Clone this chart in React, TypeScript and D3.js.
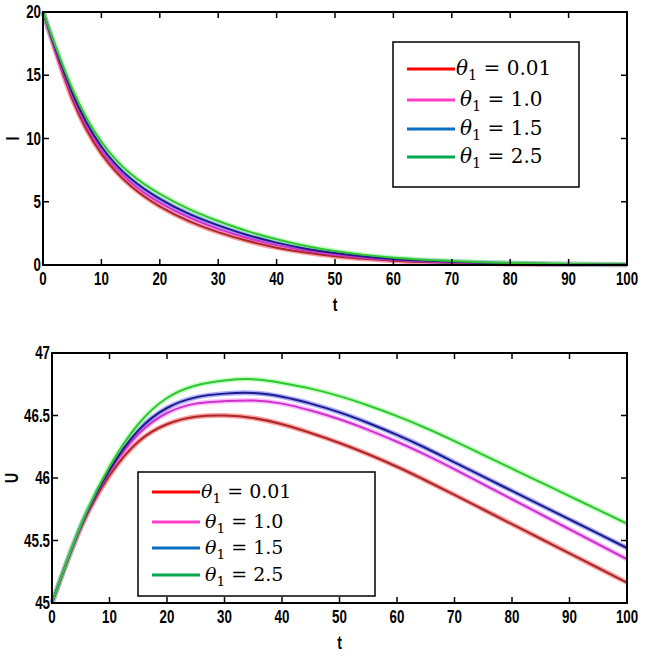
import React, { useEffect, useRef } from 'react';
import * as d3 from 'd3';

// time grid (every 5 units)
const tValues = [0, 5, 10, 15, 20, 25, 30, 35, 40, 45, 50, 55, 60, 65, 70, 75, 80, 85, 90, 95, 100];

const thetaLabels = ['0.01', '1.0', '1.5', '2.5'];

// I(t) for each theta
const iRed = [20, 13.14, 8.81, 6.27, 4.64, 3.47, 2.6, 1.91, 1.37, 0.98, 0.69, 0.49, 0.34, 0.24, 0.17, 0.12, 0.085, 0.06, 0.042, 0.03, 0.021];
const iMagenta = [20, 13.38, 9.09, 6.55, 4.93, 3.76, 2.86, 2.14, 1.57, 1.14, 0.81, 0.58, 0.41, 0.29, 0.21, 0.15, 0.11, 0.078, 0.055, 0.04, 0.028];
const iBlue = [20, 13.63, 9.37, 6.83, 5.23, 4.04, 3.13, 2.37, 1.77, 1.29, 0.94, 0.68, 0.48, 0.35, 0.25, 0.18, 0.13, 0.096, 0.068, 0.049, 0.035];
const iGreen = [20, 13.95, 9.74, 7.21, 5.62, 4.42, 3.48, 2.68, 2.03, 1.5, 1.1, 0.8, 0.58, 0.42, 0.31, 0.22, 0.16, 0.12, 0.085, 0.062, 0.045];

// U(t) for each theta
const uRed = [45.0, 45.6, 46.02, 46.29, 46.43, 46.49, 46.5, 46.48, 46.43, 46.36, 46.28, 46.19, 46.09, 45.98, 45.865, 45.748, 45.631, 45.514, 45.397, 45.28, 45.163];
const uMagenta = [45.0, 45.61, 46.05, 46.35, 46.52, 46.595, 46.615, 46.62, 46.595, 46.54, 46.47, 46.385, 46.29, 46.185, 46.07, 45.95, 45.83, 45.71, 45.59, 45.47, 45.35];
const uBlue = [45.0, 45.615, 46.065, 46.38, 46.56, 46.645, 46.675, 46.68, 46.65, 46.595, 46.525, 46.44, 46.345, 46.24, 46.125, 46.011, 45.897, 45.783, 45.669, 45.555, 45.44];
const uGreen = [45.0, 45.62, 46.09, 46.43, 46.64, 46.74, 46.78, 46.79, 46.76, 46.715, 46.655, 46.58, 46.495, 46.4, 46.295, 46.185, 46.075, 45.965, 45.855, 45.745, 45.635];

const xTicks = [0, 10, 20, 30, 40, 50, 60, 70, 80, 90, 100];
const iTicks = [0, 5, 10, 15, 20];
const uTicks = [45, 45.5, 46, 46.5, 47];

// core colour, glow colour, legend colour
const lineCore = ['#a8282a', '#cc33cc', '#1c1c86', '#33c433'];
const lineGlow = ['#ff5050', '#ff8cff', '#6a6aff', '#8cff8c'];
const legendColor = ['#ff0000', '#ff3fcc', '#0a6ec2', '#00a84f'];

const tickFont = '"Liberation Sans", Arial, sans-serif';
const squeeze = 0.74; // narrow the bold digits like Arial Narrow

const App: React.FC = () => {
    const ref = useRef<SVGSVGElement>(null);

    useEffect(() => {
        const svg = d3.select(ref.current);
        svg.selectAll('*').remove();

        const width = 645;
        const height = 667;
        svg.attr('viewBox', [0, 0, width, height]);

        // narrow bold label placed at (px, py)
        function label(g, px, py, anchor, txt, size = 18) {
            g.append('text')
                .attr('transform', `translate(${px},${py}) scale(${squeeze},1)`)
                .attr('text-anchor', anchor)
                .attr('font-family', tickFont)
                .attr('font-weight', 'bold')
                .attr('font-size', size)
                .text(txt);
        }

        function drawPanel(opts) {
            const { left, right, top, bottom, yDomain, yTicks, series, yLabel, yLabelX, legend } = opts;
            const x = d3.scaleLinear().domain([0, 100]).range([left, right]);
            const y = d3.scaleLinear().domain(yDomain).range([bottom, top]);
            const g = svg.append('g');
            const tickLen = 6;

            // curves: wide soft halo then darker core
            const line = d3.line<number>()
                .x((d, i) => x(tValues[i]))
                .y(d => y(d))
                .curve(d3.curveNatural);

            series.forEach((s, k) => {
                g.append('path')
                    .attr('d', line(s))
                    .attr('fill', 'none')
                    .attr('stroke', lineGlow[k])
                    .attr('stroke-opacity', 0.55)
                    .attr('stroke-width', 5);
            });
            series.forEach((s, k) => {
                g.append('path')
                    .attr('d', line(s))
                    .attr('fill', 'none')
                    .attr('stroke', lineCore[k])
                    .attr('stroke-width', 2);
            });

            // box
            g.append('rect')
                .attr('x', left).attr('y', top)
                .attr('width', right - left).attr('height', bottom - top)
                .attr('fill', 'none')
                .attr('stroke', '#000')
                .attr('stroke-width', 2);

            // x ticks, inside on bottom and top
            xTicks.forEach(t => {
                if (t !== 0 && t !== 100) {
                    g.append('line').attr('x1', x(t)).attr('x2', x(t)).attr('y1', bottom).attr('y2', bottom - tickLen)
                        .attr('stroke', '#000').attr('stroke-width', 1.5);
                    g.append('line').attr('x1', x(t)).attr('x2', x(t)).attr('y1', top).attr('y2', top + tickLen)
                        .attr('stroke', '#000').attr('stroke-width', 1.5);
                }
                label(g, x(t), bottom + 20, 'middle', String(t));
            });

            // y ticks
            yTicks.forEach(t => {
                if (t !== yDomain[0] && t !== yDomain[1]) {
                    g.append('line').attr('x1', left).attr('x2', left + tickLen).attr('y1', y(t)).attr('y2', y(t))
                        .attr('stroke', '#000').attr('stroke-width', 1.5);
                    g.append('line').attr('x1', right).attr('x2', right - tickLen).attr('y1', y(t)).attr('y2', y(t))
                        .attr('stroke', '#000').attr('stroke-width', 1.5);
                }
                label(g, left - 2, y(t) + 6, 'end', String(t));
            });

            // axis titles
            label(g, x(50), bottom + 46, 'middle', 't', 19);
            g.append('text')
                .attr('transform', `translate(${yLabelX},${(top + bottom) / 2}) rotate(-90) scale(${squeeze},1)`)
                .attr('text-anchor', 'middle')
                .attr('font-family', tickFont)
                .attr('font-weight', 'bold')
                .attr('font-size', 19)
                .text(yLabel);

            // legend box
            const lg = g.append('g').attr('transform', `translate(${legend.x},${legend.y})`);
            lg.append('rect')
                .attr('width', legend.w).attr('height', legend.h)
                .attr('fill', '#fff')
                .attr('stroke', '#000')
                .attr('stroke-width', 1.5);
            thetaLabels.forEach((lab, k) => {
                const cy = legend.rows[k];
                lg.append('line')
                    .attr('x1', 14).attr('x2', 62)
                    .attr('y1', cy).attr('y2', cy)
                    .attr('stroke', legendColor[k])
                    .attr('stroke-width', 3);
                const txt = lg.append('text')
                    .attr('x', k === 0 ? 63 : 67)
                    .attr('y', cy + 6)
                    .attr('font-family', '"DejaVu Serif", serif')
                    .attr('font-size', legend.font);
                txt.append('tspan').attr('font-style', 'italic').text('θ');
                txt.append('tspan').attr('font-size', legend.font * 0.72).attr('dy', 5).text('1');
                txt.append('tspan').attr('dy', -5).text(' = ' + lab);
            });
        }

        drawPanel({
            left: 43, right: 627, top: 12, bottom: 265,
            yDomain: [0, 20], yTicks: iTicks,
            series: [iRed, iMagenta, iBlue, iGreen],
            yLabel: 'I', yLabelX: 19,
            legend: { x: 393, y: 42, w: 186, h: 145, rows: [27, 58, 87, 115], font: 20 }
        });

        drawPanel({
            left: 52, right: 627, top: 353, bottom: 603,
            yDomain: [45, 47], yTicks: uTicks,
            series: [uRed, uMagenta, uBlue, uGreen],
            yLabel: 'U', yLabelX: 18,
            legend: { x: 138, y: 472, w: 237, h: 124, rows: [20, 50, 76, 103], font: 19 }
        });
    }, []);

    return (
        <svg ref={ref} width={645} height={667} style={{ position: 'absolute', left: 0, top: 0, background: '#fff' }} />
    );
};

export default App;
